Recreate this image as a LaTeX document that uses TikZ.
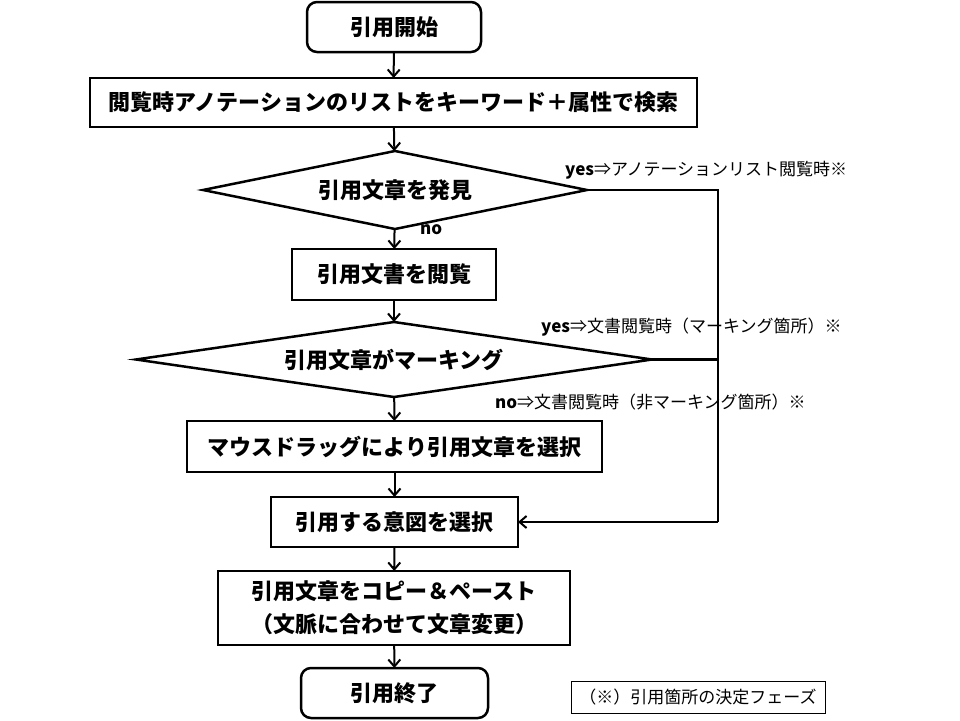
\documentclass[tikz,border=0pt]{standalone}
\usepackage{fontspec}
\setmainfont{Noto Sans CJK JP}
\usetikzlibrary{shapes.geometric,arrows.meta}
\tikzset{
  box/.style={draw, line width=2.5pt, inner sep=0pt, outer sep=0pt, align=center, font=\fontsize{22}{33}\selectfont\bfseries},
  term/.style={box, rounded corners=10pt},
  dec/.style={draw, diamond, line width=2.5pt, inner sep=0pt, outer sep=0pt, aspect=5, font=\fontsize{22}{26}\selectfont\bfseries},
  flow/.style={line width=2pt, -{Straight Barb[length=7pt,width=12pt,line width=2pt]}},
  plain/.style={line width=2.5pt},
  lab/.style={inner sep=0pt, anchor=west, font=\fontsize{17}{20}\selectfont}
}
\begin{document}
\begin{tikzpicture}[x=1pt,y=-1pt]
\useasboundingbox[fill=white] (0,0) rectangle (960,720);
\node[term, minimum width=174pt, minimum height=50pt] (start) at (394,27) {引用開始};
\node[box, minimum width=607pt, minimum height=49pt] (b2) at (393.5,102.5) {閲覧時アノテーションのリストをキーワード＋属性で検索};
\node[dec, minimum width=384pt, minimum height=78pt] (d1) at (395,190) {引用文章を発見};
\node[box, minimum width=204pt, minimum height=51pt] (b3) at (394,274.5) {引用文書を閲覧};
\node[dec, minimum width=516pt, minimum height=75pt] (d2) at (394,359.5) {引用文章がマーキング};
\node[box, minimum width=415pt, minimum height=51pt] (b4) at (394.5,446.5) {マウスドラッグにより引用文章を選択};
\node[box, minimum width=247pt, minimum height=50pt] (b5) at (394.5,522) {引用する意図を選択};
\node[box, minimum width=352pt, minimum height=74pt] (b6) at (394,608) {引用文章をコピー＆ペースト\\（文脈に合わせて文章変更）};
\node[term, minimum width=187pt, minimum height=50pt] (end) at (394.5,693) {引用終了};
\node[draw, line width=1pt, minimum width=254pt, minimum height=32pt, inner sep=0pt, font=\fontsize{17}{20}\selectfont] (leg) at (698,697) {（※）引用箇所の決定フェーズ};

\coordinate (r1) at (718,190);
\coordinate (r2) at (718,359.5);
\coordinate (r3) at (718,522);

\draw[flow] (start) -- (b2);
\draw[flow] (b2) -- (d1);
\draw[flow] (d1) -- (b3);
\draw[flow] (b3) -- (d2);
\draw[flow] (d2) -- (b4);
\draw[flow] (b4) -- (b5);
\draw[flow] (b5) -- (b6);
\draw[flow] (b6) -- (end);
\draw[plain] (d1.east) -- (r1) -- (r3);
\draw[flow] (r3) -- (b5.east);
\draw[plain] (d2.east) -- (r2);

\node[lab] (l1) at (565,170) {\textbf{yes}⇒アノテーションリスト閲覧時※};
\node[lab] (l2) at (541,327) {\textbf{yes}⇒文書閲覧時（マーキング箇所）※};
\node[lab] (l3) at (495,402) {\textbf{no}⇒文書閲覧時（非マーキング箇所）※};
\node[lab, font=\fontsize{17}{20}\selectfont\bfseries] (l4) at (420,230) {no};
\end{tikzpicture}
\end{document}
